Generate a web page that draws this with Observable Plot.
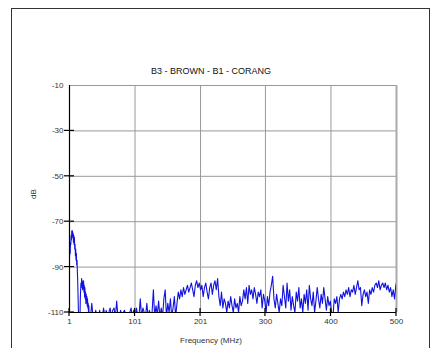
<!DOCTYPE html>
<html><head><meta charset="utf-8">
<script src="https://cdn.jsdelivr.net/npm/d3@7"></script>
<script src="https://cdn.jsdelivr.net/npm/@observablehq/plot@0.6"></script>
<style>
html,body{margin:0;padding:0;background:#fff;}
#wrap{position:relative;width:437px;height:348px;overflow:hidden;font-family:"Liberation Sans",Arial,sans-serif;}
#border{position:absolute;left:11px;top:8px;width:419px;height:360px;border:1px solid #333;box-sizing:border-box;}
#chart{position:absolute;left:0;top:0;}
</style></head>
<body><div id="wrap"><div id="border"></div><div id="chart"></div></div>
<script>
const title = "B3 - BROWN - B1 - CORANG";
const xLabel = "Frequency (MHz)";
const yLabel = "dB";
const xTicks = [1, 101, 201, 300, 400, 500];
const yTicks = [-10, -30, -50, -70, -90, -110];
// low-frequency segment: 1 to 33 MHz, every 0.5 MHz
const lowStart = 1, lowStep = 0.5;
const lowValues = [
-86,-82,-84,-79,-80,-76,-78,-74,-76,-74,
-77,-75,-79,-76,-80,-77,-82,-80,-85,-82,
-87,-84,-89,-87,-92,-96,-102,-108,-112,-112,
-112,-110,-112,-104,-100,-97,-99,-95,-98,-96,
-100,-97,-99,-96,-101,-98,-103,-99,-104,-101,
-106,-102,-105,-103,-107,-104,-108,-106,-110,-107,
-112,-112,-112,-112,-112
];
// rest of the sweep: 35 to 499 MHz, every 2 MHz, then 500 MHz
const highStart = 35, highStep = 2;
const highValues = [
-106,-112,-112,
-109,-112,-112,-109,-112,-112,-108,-112,-109,-112,
-110,-108,-112,-109,-108,-112,-105,-112,-112,-109,
-112,-110,-109,-112,-112,-112,-110,-108,-112,-109,
-112,-108,-111,-112,-104,-112,-108,-110,-112,-106,
-112,-109,-112,-110,-100,-112,-107,-111,-105,-112,
-108,-112,-104,-100,-112,-106,-110,-104,-112,-108,
-103,-112,-106,-101,-104,-100,-103,-99,-102,-100,
-98,-101,-99,-97,-100,-103,-98,-96,-99,-97,
-100,-98,-103,-99,-97,-101,-104,-99,-97,-102,
-98,-96,-100,-95,-103,-107,-101,-108,-104,-106,
-110,-105,-108,-103,-107,-110,-104,-108,-106,-110,
-103,-107,-105,-100,-104,-99,-106,-98,-102,-100,
-104,-99,-102,-106,-101,-103,-100,-108,-102,-105,
-110,-103,-107,-101,-98,-94,-104,-108,-102,-106,
-110,-104,-107,-98,-103,-108,-97,-105,-100,-109,
-103,-107,-110,-101,-105,-99,-108,-104,-110,-102,
-106,-100,-109,-98,-104,-107,-101,-110,-105,-99,
-104,-108,-102,-106,-99,-104,-109,-103,-107,-105,
-110,-112,-104,-106,-103,-110,-104,-102,-104,-101,
-103,-100,-102,-99,-103,-100,-101,-98,-102,-99,
-96,-100,-99,-107,-102,-100,-103,-101,-106,-100,
-102,-99,-101,-98,-97,-99,-96,-100,-98,-97,
-99,-97,-100,-98,-101,-99,-103,-100,-104,-98,
-97
];
const data = [
  ...lowValues.map((v, i) => ({f: lowStart + i * lowStep, db: v})),
  ...highValues.map((v, i) => ({f: Math.min(highStart + i * highStep, 500), db: v}))
];
const gridX = xTicks.slice(1, -1);
const gridY = yTicks.slice(1, -1);
const fmt = d => String(d);

const chart = Plot.plot({
  width: 437, height: 348,
  marginLeft: 69, marginRight: 41, marginTop: 85, marginBottom: 36,
  style: {fontFamily: "Liberation Sans, Arial, sans-serif", fontSize: "8px", color: "#333", background: "transparent"},
  x: {type: "linear", domain: [1, 500]},
  y: {type: "linear", domain: [-110, -10]},
  marks: [
    Plot.ruleX(gridX, {stroke: "#999", strokeWidth: 1, strokeOpacity: 1}),
    Plot.ruleY(gridY, {stroke: "#999", strokeWidth: 1, strokeOpacity: 1}),
    Plot.ruleY([-10], {stroke: "#999", strokeWidth: 1, strokeOpacity: 1}),
    Plot.ruleX([500], {stroke: "#aaa", strokeWidth: 2, strokeOpacity: 1}),
    Plot.line(data, {x: "f", y: "db", stroke: "#1212e0", strokeWidth: 1.1, clip: true}),
    Plot.ruleX([1], {stroke: "#000", strokeWidth: 1.2, strokeOpacity: 1}),
    Plot.ruleY([-110], {stroke: "#000", strokeWidth: 1.2, strokeOpacity: 1}),
    Plot.axisY(yTicks, {tickSize: 0, tickPadding: 6, label: null, fill: "#333", tickFormat: fmt}),
    Plot.axisX(xTicks, {tickSize: 0, tickPadding: 6, label: null, fill: "#333", tickFormat: fmt}),
    Plot.text([yLabel], {frameAnchor: "left", dx: -36, rotate: -90, fill: "#333", fontSize: 8}),
    Plot.text([xLabel], {frameAnchor: "bottom", dy: 30, dx: -22, fill: "#333", fontSize: 8}),
    Plot.text([title], {frameAnchor: "top", dy: -18, dx: -22, fill: "#111", fontSize: 9})
  ]
});
document.getElementById("chart").appendChild(chart);

// short tick marks crossing the axes, positioned through the plot's scales
const sx = chart.scale("x"), sy = chart.scale("y");
const svg = d3.select(chart);
const g = svg.append("g").attr("stroke", "#000").attr("stroke-width", 1.2);
yTicks.slice(1).forEach(t => {
  const y = sy.apply(t), x0 = sx.apply(1);
  g.append("line").attr("x1", x0 - 5).attr("x2", x0 + 5).attr("y1", y).attr("y2", y);
});
xTicks.forEach(t => {
  const x = sx.apply(t), y0 = sy.apply(-110);
  g.append("line").attr("x1", x).attr("x2", x).attr("y1", y0 - 4).attr("y2", y0 + 4);
});
</script></body></html>
